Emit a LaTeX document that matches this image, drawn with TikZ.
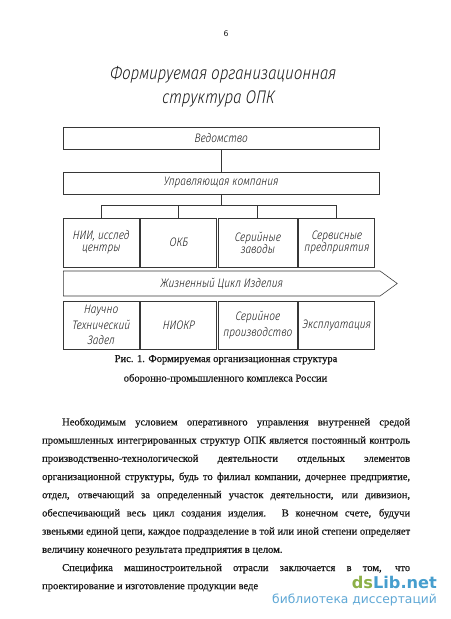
\documentclass[tikz,border=0pt]{standalone}
\usepackage{fontspec}
\setmainfont[FakeBold=0.6]{Liberation Serif}
\newfontfamily\gostfont[FakeStretch=0.82, FakeSlant=0.08]{Fira Sans Light Italic}
\newfontfamily\markfont{DejaVu Sans}
\usetikzlibrary{
  positioning,
  shapes.symbols
}
\definecolor{linegray}{RGB}{55,55,55}
\definecolor{inkgray}{RGB}{25,25,25}
\definecolor{markgreen}{RGB}{141,176,72}
\definecolor{markblue}{RGB}{70,158,206}
\definecolor{marklight}{RGB}{95,168,214}
\tikzset{
  orgbox/.style={
    rectangle, draw=linegray, line width=0.8pt, inner sep=1pt,
    minimum width=15.8cm, minimum height=1.1cm,
    text centered, text=inkgray,
    font=\gostfont\fontsize{17.5}{17}\selectfont
  },
  unitbox/.style={
    orgbox, minimum width=3.8cm, minimum height=2.45cm, align=center
  },
  stagebox/.style={
    unitbox, minimum height=2.4cm,
    font=\gostfont\fontsize{17.5}{22}\selectfont
  },
  lifearrow/.style={
    signal, signal to=east, signal pointer angle=72, draw=linegray,
    line width=0.8pt, minimum width=16.7cm, minimum height=1.25cm,
    text=inkgray, font=\gostfont\fontsize{17.5}{18}\selectfont
  },
  titletext/.style={
    text=inkgray, inner sep=0pt,
    font=\gostfont\fontsize{26}{28}\selectfont
  },
  caption/.style={
    anchor=base, inner sep=0pt, text=inkgray,
    font=\fontsize{15}{18}\selectfont
  },
  parline/.style={
    anchor=base west, inner sep=0pt, text=inkgray,
    font=\fontsize{15}{18}\selectfont
  },
  link/.style={draw=linegray, line width=0.8pt},
}

\begin{document}
\begin{tikzpicture}[x=0.05cm, y=-0.05cm]

  \fill[white] (0,0) rectangle (450,619);
  \useasboundingbox (0,0) rectangle (450,619);

  %% Page number
  \node[text=inkgray, font=\markfont\fontsize{11}{13}\selectfont]
  (page) at (226,34) {6};

  %% Title
  \node[titletext] (title1) at (223,75)  {Формируемая организационная};
  \node[titletext] (title2) at (218,99)  {структура ОПК};

  %% Management levels
  \node[orgbox] (ved) at (221,138) {Ведомство};
  \node[orgbox] (upr) at (221,183) {Управляющая компания};

  %% Enterprises
  \node[unitbox] (nii) at (101,242.5) {НИИ, исслед\\центры};
  \node[unitbox, right=0.05cm of nii]  (okb)  {ОКБ};
  \node[unitbox, right=0.05cm of okb, minimum width=3.95cm]
  (zav)  {Серийные\\заводы};
  \node[unitbox, right=0.05cm of zav]  (serv) {Сервисные\\предприятия};

  %% Life cycle
  \node[lifearrow, anchor=west] (life) at (63,283.5) {Жизненный Цикл Изделия};

  %% Stages
  \node[stagebox] (ntz) at (101,325) {Научно\\Технический\\Задел};
  \node[stagebox, right=0.05cm of ntz] (niokr) {НИОКР};
  \node[stagebox, right=0.05cm of niokr, minimum width=3.95cm]
  (serp)  {Серийное\\производство};
  \node[stagebox, right=0.05cm of serp] (expl) {Эксплуатация};

  %% Connectors
  \coordinate (bus) at (227,205);
  \draw[link] (ved) -- (upr);
  \draw[link] (upr.south) -- (upr.south |- bus);
  \draw[link] (nii.north |- bus) -- (serv.north |- bus);
  \foreach \unit in {nii, okb, zav, serv}
  \draw[link] (\unit.north |- bus) -- (\unit.north);

  %% Caption
  \node[caption] (cap1) at (226,362)
  {Рис. 1. Формируемая организационная структура};
  \node[caption] (cap2) at (225.5,381.5)
  {оборонно-промышленного комплекса России};

  %% Body text
  \node[parline] (l1) at (62,425.4) {\makebox[17.4cm][s]{Необходимым
      условием оперативного управления внутренней средой}};
  \node[parline] (l2) at (42,443.6) {\makebox[18.4cm][s]{промышленных
      интегрированных структур ОПК является постоянный контроль}};
  \node[parline] (l3) at (42,461.8) {\makebox[18.4cm][s]{производственно-технологической
      деятельности отдельных элементов}};
  \node[parline] (l4) at (42,480.0) {\makebox[18.4cm][s]{организационной
      структуры, будь то филиал компании, дочернее предприятие,}};
  \node[parline] (l5) at (42,498.2) {\makebox[18.4cm][s]{отдел, отвечающий
      за определенный участок деятельности, или дивизион,}};
  \node[parline] (l6) at (42,516.4) {\makebox[18.4cm][s]{обеспечивающий
      весь цикл создания изделия. В конечном счете, будучи}};
  \node[parline] (l7) at (42,534.6) {\makebox[18.4cm][s]{звеньями единой
      цепи, каждое подразделение в той или иной степени определяет}};
  \node[parline] (l8) at (42,552.8)
  {величину конечного результата предприятия в целом.};
  \node[parline] (l9) at (62,571.0) {\makebox[17.4cm][s]{Специфика
      машиностроительной отрасли заключается в том, что}};
  \node[parline] (l10) at (42,589.2)
  {проектирование и изготовление продукции веде};

  %% Watermark
  \node[anchor=east, inner sep=0pt, font=\markfont\bfseries\fontsize{23}{26}\selectfont]
  (mark) at (437,582) {\textcolor{markgreen}{ds}\textcolor{markblue}{Lib.net}};
  \node[anchor=east, inner sep=0pt, text=marklight,
    font=\markfont\fontsize{17.5}{20}\selectfont]
  (marksub) at (437,600) {библиотека диссертаций};

\end{tikzpicture}
\end{document}
